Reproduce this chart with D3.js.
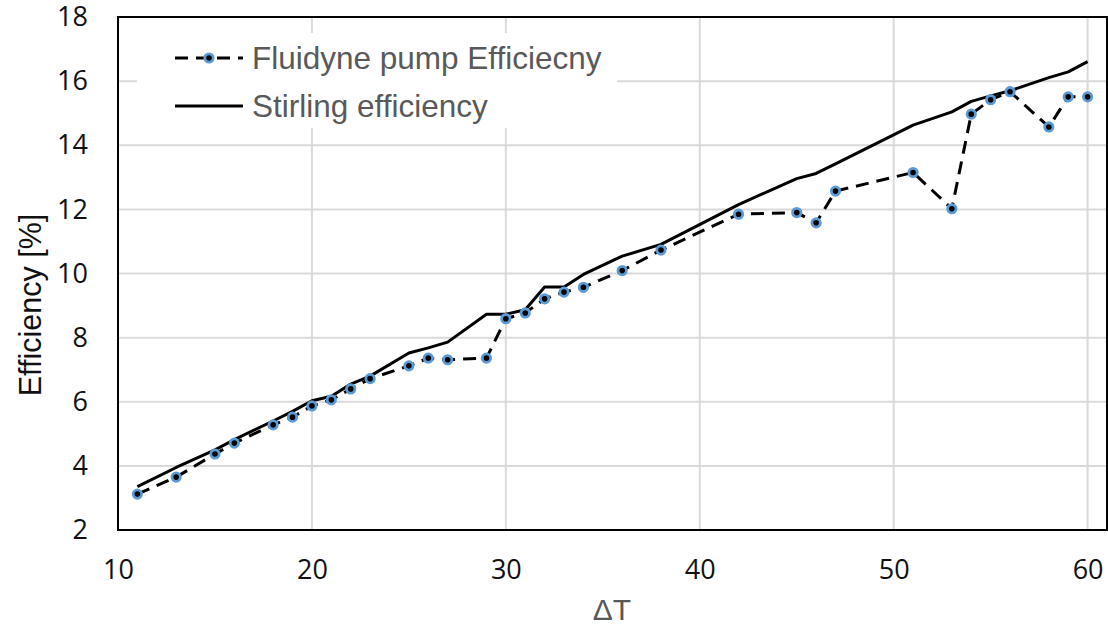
<!DOCTYPE html>
<html><head><meta charset="utf-8">
<script src="https://cdn.jsdelivr.net/npm/d3@7"></script>
<style>body{margin:0;background:#fff}svg{display:block}</style>
</head><body>
<svg id="chart" width="1108" height="627"></svg>
<script>
const deltaT = [11,13,15,16,18,19,20,21,22,23,25,26,27,29,30,31,32,33,34,36,38,42,45,46,47,51,53,54,55,56,58,59,60];
const fluidyne = [3.12,3.65,4.37,4.71,5.28,5.52,5.87,6.06,6.40,6.72,7.12,7.36,7.31,7.36,8.59,8.77,9.21,9.42,9.57,10.09,10.73,11.85,11.90,11.58,12.57,13.15,12.02,14.97,15.42,15.67,14.57,15.51,15.51];
const stirling = [3.35,3.95,4.5,4.82,5.4,5.7,6.03,6.17,6.55,6.8,7.52,7.68,7.86,8.73,8.73,8.87,9.58,9.58,9.97,10.54,10.91,12.15,12.96,13.12,13.42,14.63,15.04,15.37,15.54,15.70,16.11,16.29,16.61];
const xTicks = [10,20,30,40,50,60];
const yTicks = [2,4,6,8,10,12,14,16,18];
const seriesNames = ["Fluidyne pump Efficiecny","Stirling efficiency"];

const svg = d3.select("#chart");
const x = d3.scaleLinear().domain([10,61]).range([118,1107]);
const y = d3.scaleLinear().domain([2,18]).range([530,17]);
const blue = "#5b9bd5";

// gridlines
svg.append("g").selectAll("line.v").data(xTicks.filter(d=>d>10)).join("line")
  .attr("x1",d=>x(d)).attr("x2",d=>x(d)).attr("y1",y(18)).attr("y2",y(2))
  .attr("stroke","#d9d9d9").attr("stroke-width",2);
svg.append("g").selectAll("line.h").data(yTicks.filter(d=>d>2&&d<18)).join("line")
  .attr("x1",x(10)).attr("x2",x(61)).attr("y1",d=>y(d)).attr("y2",d=>y(d))
  .attr("stroke","#d9d9d9").attr("stroke-width",2);

// axes labels via d3 axes
const xAxis = svg.append("g").attr("transform",`translate(0,${y(2)})`)
  .call(d3.axisBottom(x).tickValues(xTicks).tickSize(0).tickPadding(30));
xAxis.select(".domain").remove();
xAxis.selectAll("text").attr("font-family","Open Sans, sans-serif").attr("font-size",27).attr("fill","#111");
const yAxis = svg.append("g").attr("transform",`translate(${x(10)},0)`)
  .call(d3.axisLeft(y).tickValues(yTicks).tickSize(0).tickPadding(30));
yAxis.select(".domain").remove();
yAxis.selectAll("text").attr("font-family","Open Sans, sans-serif").attr("font-size",27).attr("fill","#111");

// lines
const pts = (vals)=>deltaT.map((t,i)=>[t,vals[i]]);
const line = d3.line().x(d=>x(d[0])).y(d=>y(d[1]));
svg.append("path").datum(pts(stirling)).attr("d",line).attr("fill","none")
  .attr("stroke","#000").attr("stroke-width",3).attr("stroke-linejoin","round");
svg.append("path").datum(pts(fluidyne)).attr("d",line).attr("fill","none")
  .attr("stroke","#000").attr("stroke-width",3).attr("stroke-dasharray","13,8");
svg.append("g").selectAll("circle").data(pts(fluidyne)).join("circle")
  .attr("cx",d=>x(d[0])).attr("cy",d=>y(d[1])).attr("r",4.2)
  .attr("fill","#000").attr("stroke",blue).attr("stroke-width",2.8);

// legend
const lg = svg.append("g");
lg.append("rect").attr("x",137).attr("y",33).attr("width",480).attr("height",95).attr("fill","#fff");
lg.append("line").attr("x1",175).attr("x2",243).attr("y1",58).attr("y2",58)
  .attr("stroke","#000").attr("stroke-width",3).attr("stroke-dasharray","13,8").attr("stroke-dashoffset",0);
lg.append("circle").attr("cx",209).attr("cy",58).attr("r",4.2).attr("fill","#000").attr("stroke",blue).attr("stroke-width",2.8);
lg.append("line").attr("x1",175).attr("x2",243).attr("y1",106).attr("y2",106)
  .attr("stroke","#000").attr("stroke-width",3);
lg.selectAll("text").data(seriesNames).join("text")
  .attr("x",252).attr("y",(d,i)=>69+i*48).text(d=>d)
  .attr("font-family","Liberation Sans, Arial, sans-serif").attr("font-size",31.5).attr("fill","#595959");

// frame
svg.append("rect").attr("x",x(10)).attr("y",y(18)).attr("width",x(61)-x(10)).attr("height",y(2)-y(18))
  .attr("fill","none").attr("stroke","#000").attr("stroke-width",2);

// titles
svg.append("text").attr("x",612).attr("y",620).attr("text-anchor","middle")
  .attr("font-family","Liberation Sans, Arial, sans-serif").attr("font-size",30).attr("fill","#595959").text("ΔT");
svg.append("text").attr("transform","translate(41,305) rotate(-90)").attr("text-anchor","middle")
  .attr("font-family","Liberation Sans, Arial, sans-serif").attr("font-size",30.5).attr("fill","#111").text("Efficiency [%]");
</script>
</body></html>
